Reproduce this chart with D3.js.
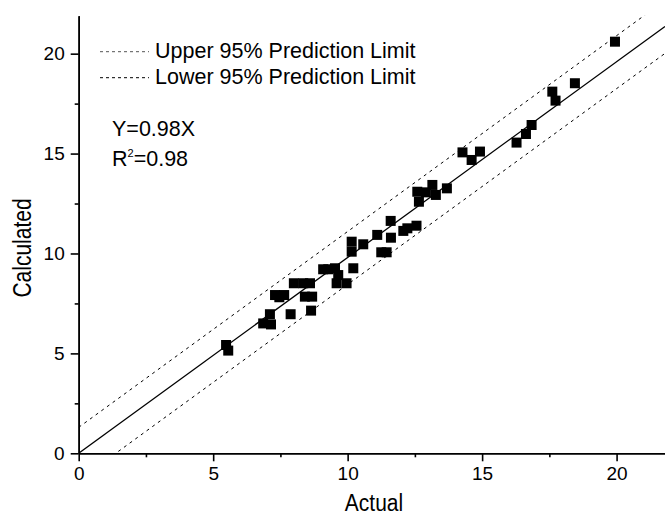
<!DOCTYPE html>
<html>
<head>
<meta charset="utf-8">
<script src="https://cdn.jsdelivr.net/npm/d3@7"></script>
<style>
  body { margin: 0; background: #fff; }
  text { font-family: Arial, "Liberation Sans", sans-serif; fill: #000; }
</style>
</head>
<body>
<script>
var width = 665;
var height = 518;

// actual vs calculated values
var actual = [5.48, 5.56, 6.86, 7.15, 7.11, 7.88, 7.30, 7.46, 7.64, 8.00, 8.35, 8.60,
    8.41, 8.68, 8.64, 9.09, 9.28, 9.53, 9.65, 9.59, 9.96, 10.21, 10.15, 10.15, 10.58,
    11.10, 11.25, 11.45, 11.60, 11.61, 12.07, 12.22, 12.56, 12.59, 12.65, 12.91, 13.15,
    13.28, 13.69, 14.27, 14.61, 14.92, 16.28, 16.63, 16.84, 17.61, 17.73, 18.45, 19.94];
var calculated = [5.42, 5.14, 6.50, 6.45, 6.96, 6.96, 7.92, 7.81, 7.92, 8.51, 8.51, 8.51,
    7.84, 7.84, 7.14, 9.21, 9.21, 9.26, 8.92, 8.51, 8.51, 9.26, 10.09, 10.59, 10.46,
    10.93, 10.06, 10.06, 11.63, 10.79, 11.13, 11.26, 11.39, 13.09, 12.59, 13.06, 13.43,
    12.93, 13.26, 15.06, 14.68, 15.10, 15.55, 15.98, 16.43, 18.10, 17.65, 18.52, 20.60];

var majorTicks = [0, 5, 10, 15, 20];
var minorTicks = [2.5, 7.5, 12.5, 17.5];

var slope = 0.98;
var upperOffset = 1.3;
var lowerOffset = -1.35;

var legendLabels = ["Upper 95% Prediction Limit", "Lower 95% Prediction Limit"];

var svg = d3.select("body")
    .append("svg")
    .attr("width", width)
    .attr("height", height);

var x = d3.scaleLinear().domain([0, 21.8]).range([78.7, 665]);
var y = d3.scaleLinear().domain([0, 21.9]).range([453.3, 15.7]);

svg.append("clipPath").attr("id", "plot")
    .append("rect")
    .attr("x", x(0)).attr("y", y(21.9))
    .attr("width", x(21.8) - x(0)).attr("height", y(0) - y(21.9));

var g = svg.append("g").attr("clip-path", "url(#plot)");

// fit line and prediction limits
function fitLine(offset) {
    var xs = [0, 21.8];
    return d3.line()
        .x(function(d) { return x(d); })
        .y(function(d) { return y(slope * d + offset); })(xs);
}

g.append("path")
    .attr("d", fitLine(0))
    .attr("fill", "none")
    .attr("stroke", "#000")
    .attr("stroke-width", 1.3);

[upperOffset, lowerOffset].forEach(function(off) {
    g.append("path")
        .attr("d", fitLine(off))
        .attr("fill", "none")
        .attr("stroke", "#000")
        .attr("stroke-width", 1)
        .attr("stroke-dasharray", "3,4");
});

// points
var pts = actual.map(function(a, i) { return [a, calculated[i]]; });
svg.selectAll(".pt")
    .data(pts)
    .enter()
    .append("rect")
    .attr("class", "pt")
    .attr("x", function(d) { return x(d[0]) - 5; })
    .attr("y", function(d) { return y(d[1]) - 5; })
    .attr("width", 10)
    .attr("height", 10)
    .attr("fill", "#000");

// axes
function styleAxis(sel) {
    sel.select(".domain").attr("stroke-width", 1.6);
    sel.selectAll(".tick line").attr("stroke-width", 1.6);
    sel.selectAll("text").style("font-size", "19px").attr("fill", "#000");
}

svg.append("g")
    .attr("transform", "translate(0," + y(0) + ")")
    .call(d3.axisBottom(x).tickValues(minorTicks).tickSize(4).tickSizeOuter(0).tickFormat(""))
    .call(styleAxis);
svg.append("g")
    .attr("transform", "translate(0," + y(0) + ")")
    .call(d3.axisBottom(x).tickValues(majorTicks).tickSize(8).tickSizeOuter(0).tickPadding(5).tickFormat(d3.format("d")))
    .call(styleAxis);

svg.append("g")
    .attr("transform", "translate(" + x(0) + ",0)")
    .call(d3.axisLeft(y).tickValues(minorTicks).tickSize(4).tickSizeOuter(0).tickFormat(""))
    .call(styleAxis);
svg.append("g")
    .attr("transform", "translate(" + x(0) + ",0)")
    .call(d3.axisLeft(y).tickValues(majorTicks).tickSize(8).tickSizeOuter(0).tickPadding(6).tickFormat(d3.format("d")))
    .call(styleAxis);

// axis titles (original glyphs are a bit taller than wide)
svg.append("text")
    .attr("transform", "translate(374,511) scale(1,1.15)")
    .attr("text-anchor", "middle")
    .style("font-size", "21px")
    .text("Actual");

svg.append("text")
    .attr("transform", "translate(31,248) rotate(-90) scale(1,1.2)")
    .attr("text-anchor", "middle")
    .style("font-size", "21px")
    .text("Calculated");

// legend
legendLabels.forEach(function(lbl, i) {
    var ly = 51.7 + i * 26;
    svg.append("line")
        .attr("x1", 100).attr("x2", 149)
        .attr("y1", ly).attr("y2", ly)
        .attr("stroke", i === 0 ? "#555" : "#000")
        .attr("stroke-width", 1)
        .attr("stroke-dasharray", "3,3");
    svg.append("text")
        .attr("x", 155)
        .attr("y", ly + 5.8)
        .style("font-size", "21.5px")
        .text(lbl);
});

// equation
svg.append("text")
    .attr("x", 112)
    .attr("y", 135.7)
    .style("font-size", "21.5px")
    .text("Y=0.98X");

var r2 = svg.append("text")
    .attr("x", 112)
    .attr("y", 165.7)
    .style("font-size", "21.5px");
r2.append("tspan").text("R");
r2.append("tspan").attr("dy", -9).style("font-size", "11px").text("2");
r2.append("tspan").attr("dy", 9).text("=0.98");
</script>
</body>
</html>
